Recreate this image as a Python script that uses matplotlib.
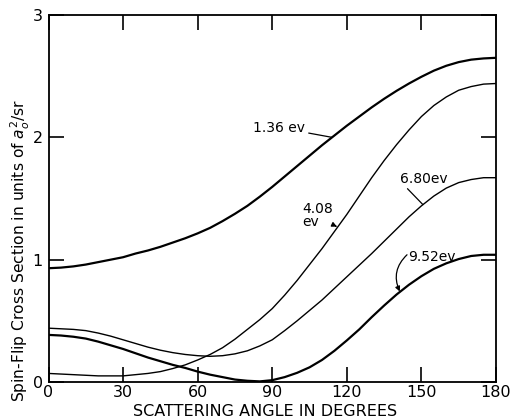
#--------------------------------------------------
# spin-flip cross section vs scattering angle (4 energies)
#--------------------------------------------------
import matplotlib
matplotlib.use('Agg')
import matplotlib.pyplot as plt
import numpy as np

#--------------------------------------------------
# data (every 5 degrees)
#--------------------------------------------------
angle = list(range(0, 181, 5))

sf_136 = [0.93, 0.935, 0.945, 0.96, 0.98, 1.0, 1.02, 1.05, 1.075, 1.105,
          1.14, 1.175, 1.215, 1.26, 1.315, 1.375, 1.44, 1.515, 1.595, 1.68,
          1.765, 1.85, 1.935, 2.015, 2.095, 2.17, 2.245, 2.315, 2.38, 2.44,
          2.495, 2.545, 2.585, 2.615, 2.635, 2.645, 2.65]
sf_408 = [0.07, 0.065, 0.06, 0.055, 0.05, 0.05, 0.05, 0.06, 0.07, 0.085,
          0.11, 0.14, 0.18, 0.225, 0.28, 0.35, 0.43, 0.51, 0.60, 0.71,
          0.83, 0.96, 1.09, 1.23, 1.37, 1.52, 1.67, 1.81, 1.94, 2.06,
          2.17, 2.26, 2.33, 2.385, 2.415, 2.435, 2.44]
sf_680 = [0.44, 0.435, 0.43, 0.42, 0.40, 0.375, 0.345, 0.315, 0.285, 0.26,
          0.24, 0.225, 0.215, 0.21, 0.215, 0.23, 0.255, 0.295, 0.345, 0.42,
          0.50, 0.585, 0.67, 0.765, 0.86, 0.955, 1.05, 1.15, 1.25, 1.35,
          1.44, 1.52, 1.585, 1.63, 1.655, 1.67, 1.67]
sf_952 = [0.385, 0.38, 0.37, 0.355, 0.33, 0.30, 0.27, 0.235, 0.20, 0.17,
          0.14, 0.115, 0.085, 0.06, 0.04, 0.02, 0.01, 0.005, 0.015, 0.04,
          0.075, 0.12, 0.18, 0.255, 0.34, 0.43, 0.53, 0.625, 0.715, 0.795,
          0.865, 0.925, 0.97, 1.005, 1.03, 1.04, 1.04]

x_ticks = [0, 30, 60, 90, 120, 150, 180]
y_ticks = [0, 1, 2, 3]

#--------------------------------------------------
# figure
#--------------------------------------------------
plt.rcParams['font.family'] = ['DejaVu Sans']
plt.rcParams['mathtext.fontset'] = 'dejavusans'

fig = plt.figure(figsize=(5.12, 4.18), dpi=100)
ax = fig.add_axes([48.5 / 512, 1 - 382 / 418, (496 - 48.5) / 512, (382 - 15) / 418])

ax.plot(angle, sf_136, color='black', lw=1.6)
ax.plot(angle, sf_408, color='black', lw=1.0)
ax.plot(angle, sf_680, color='black', lw=1.0)
ax.plot(angle, sf_952, color='black', lw=1.6)

ax.set_xlim(0, 180)
ax.set_ylim(0, 3)
ax.set_xticks(x_ticks)
ax.set_yticks(y_ticks)
ax.set_xticklabels([str(t) for t in x_ticks])
ax.set_yticklabels([str(t) for t in y_ticks])
ax.tick_params(direction='in', length=11, width=1.2, labelsize=11.5,
               top=True, right=True)
ax.tick_params(axis='x', pad=2.5)
ax.tick_params(axis='y', pad=4)
for s in ax.spines.values():
    s.set_linewidth(1.3)

fig.text(265 / 512, 1.5 / 418, 'SCATTERING ANGLE IN DEGREES',
         ha='center', va='baseline', fontsize=11.5)
fig.text(20 / 512, 1 - 250 / 418,
         r'Spin-Flip Cross Section in units of $a_o^2$/sr',
         rotation=90, ha='center', va='center', fontsize=11.2)

# curve labels
lab = dict(fontsize=10)
ax.annotate('1.36 ev', xy=(114, 2.0), xytext=(103, 2.08),
            ha='right', va='center', **lab,
            arrowprops=dict(arrowstyle='-', lw=0.9, color='black',
                            shrinkA=1, shrinkB=0))
ax.annotate('4.08\nev', xy=(116, 1.27), xytext=(102, 1.36),
            ha='left', va='center', multialignment='left',
            linespacing=0.95, **lab,
            arrowprops=dict(arrowstyle='-|>', lw=0.9, color='black',
                            mutation_scale=7, shrinkA=0, shrinkB=0,
                            relpos=(0.85, 0.25)))
ax.annotate('6.80ev', xy=(150.6, 1.45), xytext=(141.4, 1.66),
            ha='left', va='center', **lab,
            arrowprops=dict(arrowstyle='-', lw=0.9, color='black',
                            shrinkA=0, shrinkB=0, relpos=(0.1, 0.0)))
ax.text(144.5, 1.02, '9.52ev', ha='left', va='center', **lab)
ax.annotate('', xy=(141.3, 0.74), xytext=(144.2, 1.04),
            arrowprops=dict(arrowstyle='-|>', lw=0.9, color='black',
                            mutation_scale=7, shrinkA=0, shrinkB=0,
                            connectionstyle='arc3,rad=0.35'))

fig.savefig('out.png', dpi=100)
